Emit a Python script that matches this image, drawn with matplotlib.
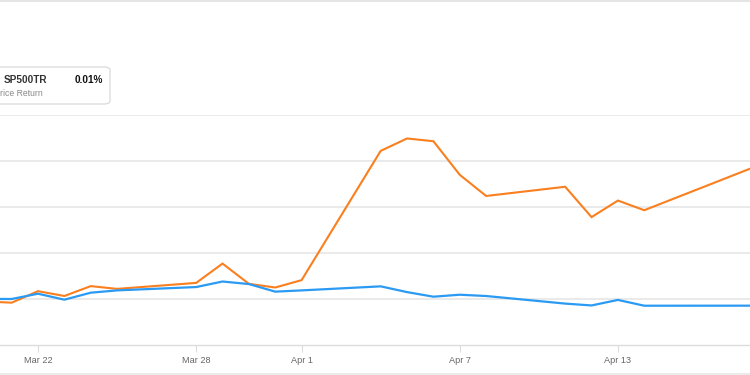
import numpy as np
import matplotlib
matplotlib.use("Agg")
import matplotlib.pyplot as plt
import matplotlib.dates as mdates
from matplotlib.lines import Line2D
from matplotlib.patches import FancyBboxPatch

# trading days (2022), cumulative total return in %
dates = ["2022-03-18", "2022-03-21", "2022-03-22", "2022-03-23", "2022-03-24",
         "2022-03-25", "2022-03-28", "2022-03-29", "2022-03-30", "2022-03-31",
         "2022-04-01", "2022-04-04", "2022-04-05", "2022-04-06", "2022-04-07",
         "2022-04-08", "2022-04-11", "2022-04-12", "2022-04-13", "2022-04-14",
         "2022-04-18"]
stock_ret = [0.0, -0.8, 1.7, 0.65, 2.8, 2.2, 3.5, 7.7, 3.3, 2.5, 4.1,
             32.2, 34.9, 34.3, 27.0, 22.4, 24.4, 17.8, 21.4, 19.3, 28.3]
sp500tr_ret = [0.05, 0.0, 1.15, -0.15, 1.37, 1.87, 2.6, 3.8, 3.25, 1.6, 1.87,
               2.75, 1.5, 0.5, 0.93, 0.65, -1.0, -1.4, -0.2, -1.46, -1.45]
tick_dates = ["2022-03-22", "2022-03-28", "2022-04-01", "2022-04-07", "2022-04-13"]
tick_labels = ["Mar 22", "Mar 28", "Apr 1", "Apr 7", "Apr 13"]

x = mdates.datestr2num(dates)
ticks = mdates.datestr2num(tick_dates)

plt.rcParams["font.family"] = ["Liberation Sans", "DejaVu Sans"]

fig = plt.figure(figsize=(7.5, 3.75), dpi=100)
ax = fig.add_axes([0.0, 30 / 375, 1.0, (345 - 115) / 375])

ax.plot(x, stock_ret, color="#fa7f1e", lw=1.5, solid_joinstyle="miter", zorder=3)
ax.plot(x, sp500tr_ret, color="#2b9af3", lw=1.6, zorder=4)

# ~26.36 px per day, Mar 22 sits at x=38px
left = mdates.datestr2num("2022-03-22") - 38 / 26.36
ax.set_xlim(left, left + 750 / 26.36)
ax.set_ylim(-10, 40)

ax.set_yticks([0, 10, 20, 30, 40])
ax.yaxis.grid(True, color="#e6e6e6", lw=1.2)
ax.tick_params(axis="y", left=False, labelleft=False)
ax.set_xticks(ticks)
ax.set_xticklabels(tick_labels)
ax.tick_params(axis="x", length=5, width=0.8, color="#dcdcdc",
               labelsize=6.6, labelcolor="#666666", pad=3)
for s in ["top", "left", "right"]:
    ax.spines[s].set_visible(False)
ax.spines["bottom"].set_color("#dcdcdc")
ax.spines["bottom"].set_linewidth(1.0)
ax.set_facecolor("none")

# outer border lines of the widget
fig.add_artist(Line2D([0, 1], [1 - 1 / 375, 1 - 1 / 375], color="#e0e0e0", lw=1.2))
fig.add_artist(Line2D([0, 1], [1 / 375, 1 / 375], color="#e8e8e8", lw=1.2))

# legend / tooltip box, cut off at the left edge
box = FancyBboxPatch((-20 / 750, (375 - 104) / 375), 130 / 750, 37 / 375,
                     boxstyle="round,pad=0,rounding_size=0.008",
                     transform=fig.transFigure, facecolor="white",
                     edgecolor="#d9d9d9", lw=0.9)
fig.add_artist(box)
fig.text(4 / 750, 1 - 80 / 375, "SP500TR", fontsize=7.2, fontweight="bold",
         color="#333333", va="center", ha="left")
fig.text(103 / 750, 1 - 80 / 375, "0.01%", fontsize=7.2, fontweight="bold",
         color="#111111", va="center", ha="right")
fig.text(0 / 750, 1 - 94 / 375, "rice Return", fontsize=6.2,
         color="#888888", va="center", ha="left")

fig.savefig("out.png", dpi=100, facecolor="white")
